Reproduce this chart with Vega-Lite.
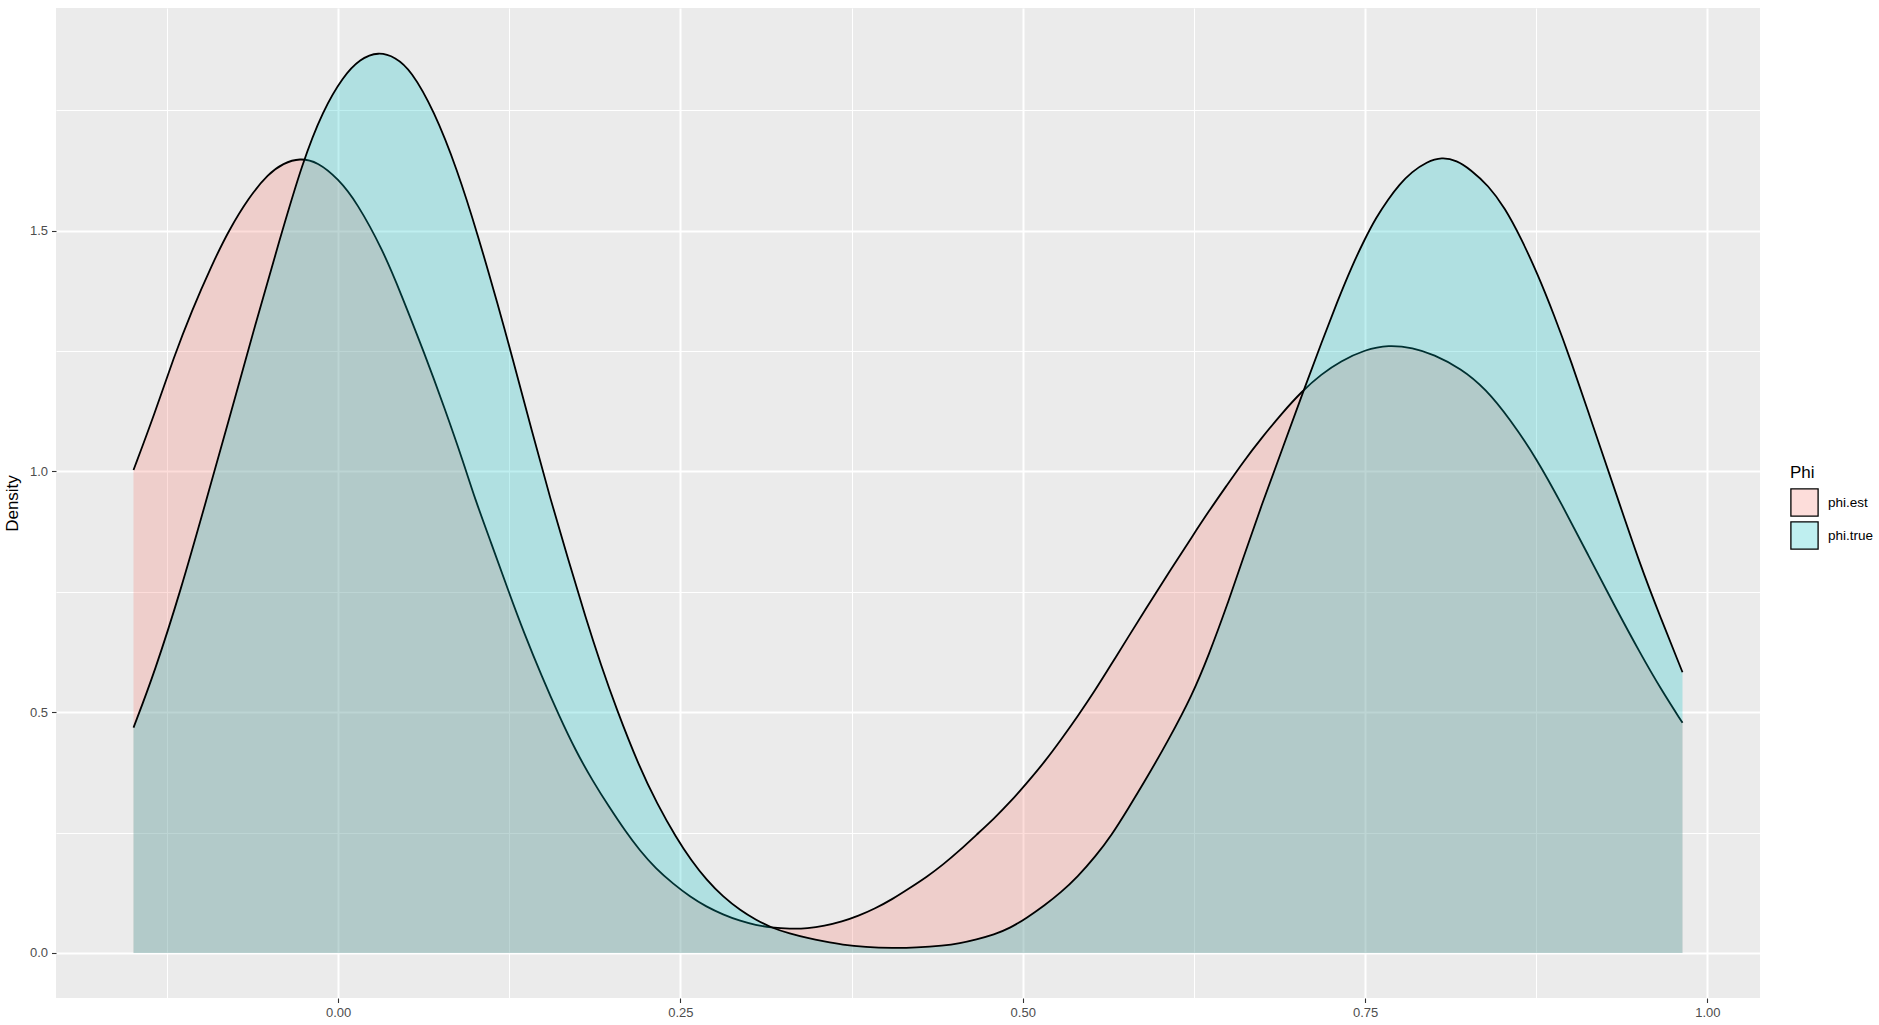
{
  "$schema": "https://vega.github.io/schema/vega-lite/v6.json",
  "width": 1704,
  "height": 990,
  "autosize": {"type": "none"},
  "padding": {"left": 56, "top": 8, "right": 119, "bottom": 27},
  "background": "white",
  "config": {
    "view": {"fill": "#EBEBEB", "stroke": null},
    "font": "Liberation Sans"
  },
  "datasets": {
    "est": [
      {"phi": "phi.est", "x": -0.1494, "density": 1.003},
      {"phi": "phi.est", "x": -0.134, "density": 1.12},
      {"phi": "phi.est", "x": -0.12, "density": 1.237},
      {"phi": "phi.est", "x": -0.107, "density": 1.333},
      {"phi": "phi.est", "x": -0.092, "density": 1.43},
      {"phi": "phi.est", "x": -0.08, "density": 1.5},
      {"phi": "phi.est", "x": -0.065, "density": 1.57},
      {"phi": "phi.est", "x": -0.051, "density": 1.618},
      {"phi": "phi.est", "x": -0.04, "density": 1.64},
      {"phi": "phi.est", "x": -0.028, "density": 1.651},
      {"phi": "phi.est", "x": -0.015, "density": 1.643},
      {"phi": "phi.est", "x": 0.0, "density": 1.608},
      {"phi": "phi.est", "x": 0.0135, "density": 1.56},
      {"phi": "phi.est", "x": 0.033, "density": 1.458},
      {"phi": "phi.est", "x": 0.0455, "density": 1.372},
      {"phi": "phi.est", "x": 0.063, "density": 1.246},
      {"phi": "phi.est", "x": 0.0775, "density": 1.134},
      {"phi": "phi.est", "x": 0.092, "density": 1.015},
      {"phi": "phi.est", "x": 0.0996, "density": 0.946},
      {"phi": "phi.est", "x": 0.112, "density": 0.85},
      {"phi": "phi.est", "x": 0.124, "density": 0.755},
      {"phi": "phi.est", "x": 0.136, "density": 0.663},
      {"phi": "phi.est", "x": 0.149, "density": 0.573},
      {"phi": "phi.est", "x": 0.161, "density": 0.495},
      {"phi": "phi.est", "x": 0.1735, "density": 0.42},
      {"phi": "phi.est", "x": 0.186, "density": 0.357},
      {"phi": "phi.est", "x": 0.198, "density": 0.303},
      {"phi": "phi.est", "x": 0.21, "density": 0.252},
      {"phi": "phi.est", "x": 0.22, "density": 0.214},
      {"phi": "phi.est", "x": 0.232, "density": 0.175},
      {"phi": "phi.est", "x": 0.245, "density": 0.143},
      {"phi": "phi.est", "x": 0.257, "density": 0.117},
      {"phi": "phi.est", "x": 0.269, "density": 0.096},
      {"phi": "phi.est", "x": 0.281, "density": 0.08},
      {"phi": "phi.est", "x": 0.294, "density": 0.066},
      {"phi": "phi.est", "x": 0.305, "density": 0.058},
      {"phi": "phi.est", "x": 0.316, "density": 0.053},
      {"phi": "phi.est", "x": 0.33, "density": 0.05},
      {"phi": "phi.est", "x": 0.343, "density": 0.051},
      {"phi": "phi.est", "x": 0.355, "density": 0.056},
      {"phi": "phi.est", "x": 0.368, "density": 0.065},
      {"phi": "phi.est", "x": 0.38, "density": 0.077},
      {"phi": "phi.est", "x": 0.392, "density": 0.092},
      {"phi": "phi.est", "x": 0.405, "density": 0.112},
      {"phi": "phi.est", "x": 0.417, "density": 0.134},
      {"phi": "phi.est", "x": 0.43, "density": 0.158},
      {"phi": "phi.est", "x": 0.442, "density": 0.184},
      {"phi": "phi.est", "x": 0.454, "density": 0.213},
      {"phi": "phi.est", "x": 0.466, "density": 0.245},
      {"phi": "phi.est", "x": 0.479, "density": 0.279},
      {"phi": "phi.est", "x": 0.491, "density": 0.314},
      {"phi": "phi.est", "x": 0.503, "density": 0.353},
      {"phi": "phi.est", "x": 0.516, "density": 0.397},
      {"phi": "phi.est", "x": 0.528, "density": 0.443},
      {"phi": "phi.est", "x": 0.54, "density": 0.491},
      {"phi": "phi.est", "x": 0.553, "density": 0.546},
      {"phi": "phi.est", "x": 0.565, "density": 0.601},
      {"phi": "phi.est", "x": 0.577, "density": 0.656},
      {"phi": "phi.est", "x": 0.589, "density": 0.711},
      {"phi": "phi.est", "x": 0.606, "density": 0.787},
      {"phi": "phi.est", "x": 0.624, "density": 0.866},
      {"phi": "phi.est", "x": 0.636, "density": 0.918},
      {"phi": "phi.est", "x": 0.649, "density": 0.971},
      {"phi": "phi.est", "x": 0.661, "density": 1.02},
      {"phi": "phi.est", "x": 0.674, "density": 1.068},
      {"phi": "phi.est", "x": 0.689, "density": 1.12},
      {"phi": "phi.est", "x": 0.704, "density": 1.167},
      {"phi": "phi.est", "x": 0.718, "density": 1.202},
      {"phi": "phi.est", "x": 0.732, "density": 1.229},
      {"phi": "phi.est", "x": 0.75, "density": 1.253},
      {"phi": "phi.est", "x": 0.767, "density": 1.263},
      {"phi": "phi.est", "x": 0.785, "density": 1.257},
      {"phi": "phi.est", "x": 0.8, "density": 1.243},
      {"phi": "phi.est", "x": 0.82, "density": 1.214},
      {"phi": "phi.est", "x": 0.838, "density": 1.172},
      {"phi": "phi.est", "x": 0.856, "density": 1.108},
      {"phi": "phi.est", "x": 0.875, "density": 1.028},
      {"phi": "phi.est", "x": 0.894, "density": 0.93},
      {"phi": "phi.est", "x": 0.913, "density": 0.826},
      {"phi": "phi.est", "x": 0.932, "density": 0.722},
      {"phi": "phi.est", "x": 0.951, "density": 0.622},
      {"phi": "phi.est", "x": 0.966, "density": 0.548},
      {"phi": "phi.est", "x": 0.9818, "density": 0.478}
    ],
    "truth": [
      {"phi": "phi.true", "x": -0.1494, "density": 0.468},
      {"phi": "phi.true", "x": -0.134, "density": 0.583},
      {"phi": "phi.true", "x": -0.1146, "density": 0.756},
      {"phi": "phi.true", "x": -0.097, "density": 0.933},
      {"phi": "phi.true", "x": -0.08, "density": 1.104},
      {"phi": "phi.true", "x": -0.06, "density": 1.31},
      {"phi": "phi.true", "x": -0.043, "density": 1.478},
      {"phi": "phi.true", "x": -0.026, "density": 1.642},
      {"phi": "phi.true", "x": -0.011, "density": 1.75},
      {"phi": "phi.true", "x": 0.0036, "density": 1.82},
      {"phi": "phi.true", "x": 0.016, "density": 1.857},
      {"phi": "phi.true", "x": 0.0295, "density": 1.872},
      {"phi": "phi.true", "x": 0.042, "density": 1.86},
      {"phi": "phi.true", "x": 0.053, "density": 1.834},
      {"phi": "phi.true", "x": 0.07, "density": 1.75},
      {"phi": "phi.true", "x": 0.087, "density": 1.627},
      {"phi": "phi.true", "x": 0.102, "density": 1.492},
      {"phi": "phi.true", "x": 0.117, "density": 1.343},
      {"phi": "phi.true", "x": 0.127, "density": 1.24},
      {"phi": "phi.true", "x": 0.1415, "density": 1.084},
      {"phi": "phi.true", "x": 0.155, "density": 0.943},
      {"phi": "phi.true", "x": 0.168, "density": 0.818},
      {"phi": "phi.true", "x": 0.181, "density": 0.694},
      {"phi": "phi.true", "x": 0.192, "density": 0.598},
      {"phi": "phi.true", "x": 0.203, "density": 0.509},
      {"phi": "phi.true", "x": 0.22, "density": 0.386},
      {"phi": "phi.true", "x": 0.233, "density": 0.31},
      {"phi": "phi.true", "x": 0.247, "density": 0.239},
      {"phi": "phi.true", "x": 0.258, "density": 0.192},
      {"phi": "phi.true", "x": 0.269, "density": 0.152},
      {"phi": "phi.true", "x": 0.281, "density": 0.117},
      {"phi": "phi.true", "x": 0.294, "density": 0.088},
      {"phi": "phi.true", "x": 0.305, "density": 0.069},
      {"phi": "phi.true", "x": 0.316, "density": 0.053},
      {"phi": "phi.true", "x": 0.33, "density": 0.04},
      {"phi": "phi.true", "x": 0.343, "density": 0.031},
      {"phi": "phi.true", "x": 0.355, "density": 0.024},
      {"phi": "phi.true", "x": 0.368, "density": 0.017},
      {"phi": "phi.true", "x": 0.385, "density": 0.012},
      {"phi": "phi.true", "x": 0.405, "density": 0.01},
      {"phi": "phi.true", "x": 0.422, "density": 0.011},
      {"phi": "phi.true", "x": 0.442, "density": 0.015},
      {"phi": "phi.true", "x": 0.454, "density": 0.02},
      {"phi": "phi.true", "x": 0.466, "density": 0.028},
      {"phi": "phi.true", "x": 0.479, "density": 0.038},
      {"phi": "phi.true", "x": 0.491, "density": 0.052},
      {"phi": "phi.true", "x": 0.503, "density": 0.073},
      {"phi": "phi.true", "x": 0.516, "density": 0.099},
      {"phi": "phi.true", "x": 0.528, "density": 0.126},
      {"phi": "phi.true", "x": 0.54, "density": 0.158},
      {"phi": "phi.true", "x": 0.553, "density": 0.2},
      {"phi": "phi.true", "x": 0.565, "density": 0.245},
      {"phi": "phi.true", "x": 0.577, "density": 0.3},
      {"phi": "phi.true", "x": 0.589, "density": 0.356},
      {"phi": "phi.true", "x": 0.606, "density": 0.44},
      {"phi": "phi.true", "x": 0.624, "density": 0.537},
      {"phi": "phi.true", "x": 0.636, "density": 0.62},
      {"phi": "phi.true", "x": 0.649, "density": 0.72},
      {"phi": "phi.true", "x": 0.661, "density": 0.82},
      {"phi": "phi.true", "x": 0.674, "density": 0.927},
      {"phi": "phi.true", "x": 0.69, "density": 1.05},
      {"phi": "phi.true", "x": 0.706, "density": 1.175},
      {"phi": "phi.true", "x": 0.718, "density": 1.266},
      {"phi": "phi.true", "x": 0.73, "density": 1.355},
      {"phi": "phi.true", "x": 0.74, "density": 1.424},
      {"phi": "phi.true", "x": 0.75, "density": 1.484},
      {"phi": "phi.true", "x": 0.758, "density": 1.527},
      {"phi": "phi.true", "x": 0.767, "density": 1.566},
      {"phi": "phi.true", "x": 0.775, "density": 1.596},
      {"phi": "phi.true", "x": 0.784, "density": 1.622},
      {"phi": "phi.true", "x": 0.795, "density": 1.643},
      {"phi": "phi.true", "x": 0.806, "density": 1.653},
      {"phi": "phi.true", "x": 0.817, "density": 1.646},
      {"phi": "phi.true", "x": 0.827, "density": 1.627},
      {"phi": "phi.true", "x": 0.84, "density": 1.594},
      {"phi": "phi.true", "x": 0.852, "density": 1.548},
      {"phi": "phi.true", "x": 0.864, "density": 1.484},
      {"phi": "phi.true", "x": 0.876, "density": 1.41},
      {"phi": "phi.true", "x": 0.888, "density": 1.325},
      {"phi": "phi.true", "x": 0.9, "density": 1.233},
      {"phi": "phi.true", "x": 0.917, "density": 1.09},
      {"phi": "phi.true", "x": 0.932, "density": 0.965},
      {"phi": "phi.true", "x": 0.951, "density": 0.805},
      {"phi": "phi.true", "x": 0.966, "density": 0.695},
      {"phi": "phi.true", "x": 0.9818, "density": 0.583}
    ]
  },
  "resolve": {"axis": {"x": "independent", "y": "independent"}},
  "layer": [
    {
      "data": {"name": "est"},
      "mark": {"type": "area", "interpolate": "basis", "fillOpacity": 0.25},
      "encoding": {
        "x": {
          "field": "x", "type": "quantitative",
          "scale": {"domain": [-0.206, 1.0384], "nice": false, "zero": false},
          "axis": {"orient": "bottom", "values": [-0.125, 0.125, 0.375, 0.625, 0.875], "grid": true, "gridColor": "white", "gridWidth": 1.0, "labels": false, "ticks": false, "domain": false, "title": null}
        },
        "y": {
          "field": "density", "type": "quantitative",
          "scale": {"domain": [-0.0935, 1.9625], "nice": false, "zero": false},
          "axis": {"orient": "left", "values": [0.25, 0.75, 1.25, 1.75], "grid": true, "gridColor": "white", "gridWidth": 1.0, "labels": false, "ticks": false, "domain": false, "title": null}
        },
        "y2": {"datum": 0},
        "fill": {
          "field": "phi", "type": "nominal",
          "scale": {"domain": ["phi.est", "phi.true"], "range": ["#F8766D", "#00BFC4"]},
          "legend": {
            "orient": "none", "legendX": 1734, "legendY": 457,
            "title": "Phi", "titleFontSize": 17, "titleFontWeight": "normal", "titleColor": "black", "titlePadding": 6,
            "labelFontSize": 13.5, "labelColor": "black", "labelOffset": 9,
            "symbolType": "square", "symbolSize": 740, "symbolStrokeColor": "black", "symbolStrokeWidth": 1.3,
            "rowPadding": 0,
            "encode": {"symbols": {"update": {"fillOpacity": {"value": 0.25}, "opacity": {"value": 1}, "stroke": {"value": "black"}, "strokeWidth": {"value": 1.3}}}}
          }
        }
      }
    },
    {
      "data": {"name": "est"},
      "mark": {"type": "line", "interpolate": "basis", "color": "black", "strokeWidth": 1.8},
      "encoding": {
        "x": {"field": "x", "type": "quantitative", "axis": null},
        "y": {"field": "density", "type": "quantitative", "axis": null}
      }
    },
    {
      "data": {"name": "truth"},
      "mark": {"type": "area", "interpolate": "basis", "fillOpacity": 0.25},
      "encoding": {
        "x": {
          "field": "x", "type": "quantitative",
          "axis": {"orient": "bottom", "values": [0, 0.25, 0.5, 0.75, 1], "format": ".2f", "grid": true, "gridColor": "white", "gridWidth": 2.0, "domain": false, "title": null, "labelFontSize": 13, "labelColor": "#4D4D4D", "tickColor": "#333333", "tickSize": 4.5, "tickWidth": 1.1, "labelPadding": 4}
        },
        "y": {
          "field": "density", "type": "quantitative",
          "axis": {"orient": "left", "values": [0, 0.5, 1, 1.5], "format": ".1f", "grid": true, "gridColor": "white", "gridWidth": 2.0, "domain": false, "title": "Density", "titleFontSize": 17, "titleFontWeight": "normal", "titleColor": "black", "titlePadding": 7.5, "labelFontSize": 13, "labelColor": "#4D4D4D", "tickColor": "#333333", "tickSize": 4.5, "tickWidth": 1.1, "labelPadding": 4}
        },
        "y2": {"datum": 0},
        "fill": {"field": "phi", "type": "nominal"}
      }
    },
    {
      "data": {"name": "truth"},
      "mark": {"type": "line", "interpolate": "basis", "color": "black", "strokeWidth": 1.8},
      "encoding": {
        "x": {"field": "x", "type": "quantitative", "axis": null},
        "y": {"field": "density", "type": "quantitative", "axis": null}
      }
    }
  ]
}
